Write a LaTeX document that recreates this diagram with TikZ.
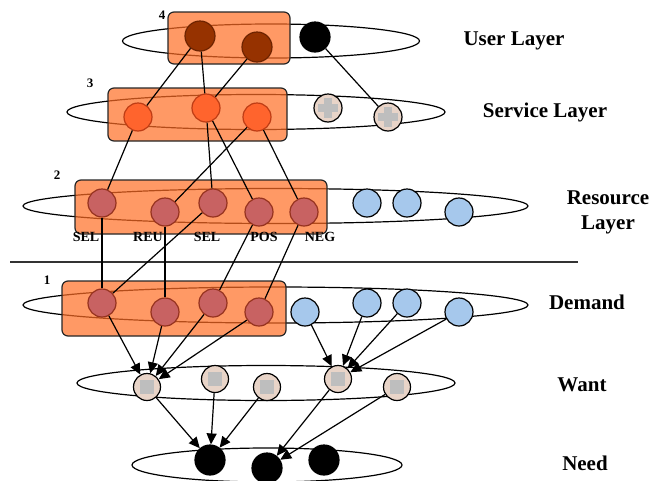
\documentclass[tikz,border=0pt]{standalone}
\usepackage{fontspec}
\setmainfont{Liberation Serif}
\usetikzlibrary{arrows.meta,shapes.geometric}
\definecolor{grpfill}{RGB}{255,109,36}
\definecolor{ubrown}{RGB}{150,50,0}
\definecolor{ubrownd}{RGB}{110,35,0}
\definecolor{sorange}{RGB}{255,100,45}
\definecolor{sorangd}{RGB}{190,60,20}
\definecolor{rred}{RGB}{200,98,98}
\definecolor{rredd}{RGB}{150,50,30}
\definecolor{lblue}{RGB}{166,200,236}
\definecolor{beige}{RGB}{232,212,200}
\definecolor{pgray}{RGB}{190,190,190}
\begin{document}
\begin{tikzpicture}[x=1pt,y=-1pt,
  lay/.style={ellipse, draw=black, line width=1.2pt, inner sep=0pt},
  grp/.style={draw=black!85, line width=1.2pt, rounded corners=6pt, fill=grpfill, fill opacity=0.7},
  nd/.style={circle, inner sep=0pt, minimum size=28pt, line width=1.2pt},
  uc/.style={nd, minimum size=30pt, fill=ubrown, draw=ubrownd},
  bk/.style={nd, minimum size=30pt, fill=black, draw=black},
  sc/.style={nd, fill=sorange, draw=sorangd},
  rc/.style={nd, fill=rred, draw=rredd},
  bc/.style={nd, fill=lblue, draw=black},
  pc/.style={nd, fill=beige, draw=black, path picture={
    \fill[pgray] ([xshift=-10pt,yshift=-4pt]path picture bounding box.center) rectangle ([xshift=10pt,yshift=4pt]path picture bounding box.center);
    \fill[pgray] ([xshift=-4pt,yshift=-10pt]path picture bounding box.center) rectangle ([xshift=4pt,yshift=10pt]path picture bounding box.center);}},
  wc/.style={nd, minimum size=27pt, fill=beige, draw=black, path picture={
    \fill[pgray] ([xshift=-7pt,yshift=-7pt]path picture bounding box.center) rectangle ([xshift=7pt,yshift=7pt]path picture bounding box.center);}},
  ln/.style={line width=1.2pt, draw=black},
  ar/.style={ln, -{Triangle[length=11pt,width=10pt]}},
  lbl/.style={font=\bfseries\fontsize{21}{25}\selectfont, align=center, inner sep=0pt},
  sm/.style={font=\bfseries\fontsize{14}{15}\selectfont, inner sep=0pt},
  num/.style={font=\bfseries\fontsize{13}{14}\selectfont, inner sep=0pt}
]
\useasboundingbox (0,0) rectangle (654,480);
% layer ellipses
\node[lay, minimum width=297, minimum height=34] (eu) at (271,41) {};
\node[lay, minimum width=378, minimum height=35] (es) at (256,112) {};
\node[lay, minimum width=505, minimum height=35] (er) at (275.5,206) {};
\node[lay, minimum width=505, minimum height=36] (ed) at (275.5,305) {};
\node[lay, minimum width=378, minimum height=35] (ew) at (266,383) {};
\node[lay, minimum width=270, minimum height=34] (en) at (267,465) {};
% group boxes
\draw[grp] (168,12) rectangle (290,64);
\draw[grp] (108,88) rectangle (287,141);
\draw[grp] (75,180) rectangle (327,234);
\draw[grp] (62,281) rectangle (286,336);
% divider
\coordinate (dl) at (10,262);
\coordinate (dr) at (578,262);
\draw[line width=1.3pt, black!80] (dl) -- (dr);
% numbers
\node[num] (n4) at (162,15) {4};
\node[num] (n3) at (90,83) {3};
\node[num] (n2) at (57,175) {2};
\node[num] (n1) at (47,280) {1};
% user layer
\node[uc] (u1) at (200,36) {};
\node[uc] (u2) at (257,47) {};
\node[bk] (u3) at (315,37) {};
% service layer
\node[sc] (s1) at (138,117) {};
\node[sc] (s2) at (206,108) {};
\node[sc] (s3) at (257,117) {};
\node[pc] (s4) at (328,108) {};
\node[pc] (s5) at (388,117) {};
% resource layer
\node[rc] (r1) at (102,203) {};
\node[rc] (r2) at (165,212) {};
\node[rc] (r3) at (213,203) {};
\node[rc] (r4) at (259,212) {};
\node[rc] (r5) at (304,212) {};
\node[bc] (r6) at (367,203) {};
\node[bc] (r7) at (407,203) {};
\node[bc] (r8) at (459,212) {};
\node[sm] (t1) at (86,237) {SEL};
\node[sm] (t2) at (148,237) {REU};
\node[sm] (t3) at (207,237) {SEL};
\node[sm] (t4) at (264,237) {POS};
\node[sm] (t5) at (320,237) {NEG};
% demand layer
\node[rc] (d1) at (102,303) {};
\node[rc] (d2) at (165,312) {};
\node[rc] (d3) at (213,303) {};
\node[rc] (d4) at (259,312) {};
\node[bc] (d5) at (305,312) {};
\node[bc] (d6) at (367,303) {};
\node[bc] (d7) at (407,303) {};
\node[bc] (d8) at (459,312) {};
% want layer
\node[wc] (w1) at (147,387) {};
\node[wc] (w2) at (215,379) {};
\node[wc] (w3) at (267,387) {};
\node[wc] (w4) at (338,379) {};
\node[wc] (w5) at (397,387) {};
% need layer
\node[bk] (q1) at (210,460) {};
\node[bk] (q2) at (267,468) {};
\node[bk] (q3) at (324,460) {};
% labels
\node[lbl] (lu) at (514,41) {User Layer};
\node[lbl] (ls) at (545,112) {Service Layer};
\node[lbl] (lr) at (608,212) {Resource\\Layer};
\node[lbl] (ld) at (587,302) {Demand};
\node[lbl] (lw) at (582,385) {Want};
\node[lbl] (lq) at (585,463) {Need};
% user -> service
\draw[ln] (u1) -- (s1);
\draw[ln] (u1) -- (s2);
\draw[ln] (u2) -- (s2);
\draw[ln] (u3) -- (s5);
% service -> resource
\draw[ln] (s1) -- (r1);
\draw[ln] (s2) -- (r3);
\draw[ln] (s2) -- (r4);
\draw[ln] (s3) -- (r2);
\draw[ln] (s3) -- (r5);
% resource -> demand
\draw[ln] (r1) -- (d1);
\draw[ln] (r2) -- (d2);
\draw[ln] (r3) -- (d1);
\draw[ln] (r4) -- (d3);
\draw[ln] (r5) -- (d4);
% demand -> want
\draw[ar] (d1) -- (w1);
\draw[ar] (d2) -- (w1);
\draw[ar] (d3) -- (w1);
\draw[ar] (d4) -- (w1);
\draw[ar] (d5) -- (w4);
\draw[ar] (d6) -- (w4);
\draw[ar] (d7) -- (w4);
\draw[ar] (d8) -- (w4);
% want -> need
\draw[ar] (w1) -- (q1);
\draw[ar] (w2) -- (q1);
\draw[ar] (w3) -- (q1);
\draw[ar] (w4) -- (q2);
\draw[ar] (w5) -- (q2);
\end{tikzpicture}
\end{document}
